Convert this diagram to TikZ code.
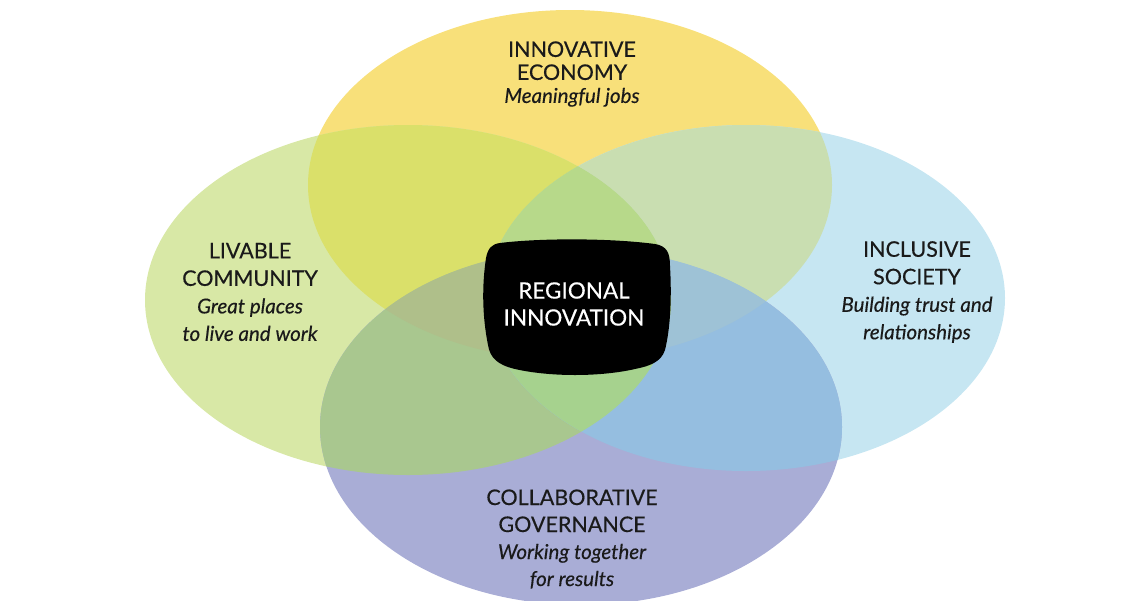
\documentclass[tikz,border=0pt]{standalone}
\usepackage{fontspec}
\setmainfont{Lato}[UprightFeatures={FakeBold=0.35},ItalicFeatures={FakeBold=0.35}]
\definecolor{cY}{HTML}{F8E07A}
\definecolor{cG}{HTML}{D8E8A6}
\definecolor{cB}{HTML}{C6E6F2}
\definecolor{cP}{HTML}{A9ADD6}
\definecolor{cYG}{HTML}{DAE06A}
\definecolor{cYB}{HTML}{C9DEB1}
\definecolor{cGB}{HTML}{B2D98F}
\definecolor{cGP}{HTML}{A9C78F}
\definecolor{cBP}{HTML}{95BEE0}
\definecolor{cYGB}{HTML}{B7D98A}
\definecolor{cYGP}{HTML}{AFBF8A}
\definecolor{cYBP}{HTML}{9EC2D6}
\definecolor{cGBP}{HTML}{A6D28E}
\definecolor{cYGBP}{HTML}{A9CD8A}
\definecolor{txt}{HTML}{1A1A1A}
\newcommand{\capsz}{\fontsize{21.5}{27.5}\selectfont}
\newcommand{\itsz}{\fontsize{20.5}{27.5}\selectfont\itshape}
\tikzset{
  EY/.style={insert path={(570,185) ellipse [x radius=262, y radius=175]}},
  EG/.style={insert path={(408,300) ellipse [x radius=263, y radius=175]}},
  EB/.style={insert path={(746,298) ellipse [x radius=259, y radius=173]}},
  EP/.style={insert path={(581,427) ellipse [x radius=261, y radius=178]}},
  lbl/.style={align=center, text=txt, font=\fontsize{21}{27.5}\selectfont, inner sep=0pt},
}
\begin{document}
\begin{tikzpicture}[x=1pt,y=-1pt]
\useasboundingbox (0,0) rectangle (1143,600);
% single regions
\fill[cY, EY];
\fill[cG, EG];
\fill[cB, EB];
\fill[cP, EP];
% pairs
\begin{scope}\path[clip, EY]; \fill[cYG, EG]; \end{scope}
\begin{scope}\path[clip, EY]; \fill[cYB, EB]; \end{scope}
\begin{scope}\path[clip, EG]; \fill[cGB, EB]; \end{scope}
\begin{scope}\path[clip, EG]; \fill[cGP, EP]; \end{scope}
\begin{scope}\path[clip, EB]; \fill[cBP, EP]; \end{scope}
% triples
\begin{scope}\path[clip, EY]; \path[clip, EG]; \fill[cYGB, EB]; \end{scope}
\begin{scope}\path[clip, EY]; \path[clip, EG]; \fill[cYGP, EP]; \end{scope}
\begin{scope}\path[clip, EY]; \path[clip, EB]; \fill[cYBP, EP]; \end{scope}
\begin{scope}\path[clip, EG]; \path[clip, EB]; \fill[cGBP, EP]; \end{scope}
% quadruple
\begin{scope}\path[clip, EY]; \path[clip, EG]; \path[clip, EB]; \fill[cYGBP, EP]; \end{scope}
% central black shape
\fill[black] (500,243) .. controls (540,238) and (610,238) .. (655,244)
  .. controls (667,246) and (670,253) .. (670,266)
  .. controls (672,300) and (670,330) .. (665,350)
  .. controls (661,362) and (650,366) .. (635,369)
  .. controls (600,377) and (550,377) .. (515,369)
  .. controls (498,365) and (490,358) .. (488,345)
  .. controls (482,315) and (482,285) .. (486,258)
  .. controls (488,248) and (492,244) .. (500,243) -- cycle;
% labels
\node[lbl, font=\fontsize{21}{23}\selectfont] (eco) at (572,74) {{\capsz\baselineskip=23pt INNOVATIVE}\\{\capsz ECONOMY}\\{\itsz Meaningful jobs}};
\node[lbl] (liv) at (250,292) {{\capsz LIVABLE}\\{\capsz COMMUNITY}\\{\itsz Great places}\\{\itsz to live and work}};
\node[lbl] (inc) at (917,292) {{\capsz INCLUSIVE}\\{\capsz SOCIETY}\\{\itsz Building trust and}\\{\itsz relationships}};
\node[lbl, font=\fontsize{21}{27}\selectfont] (gov) at (572,539) {{\capsz COLLABORATIVE}\\{\capsz GOVERNANCE}\\{\itsz Working together}\\{\itsz for results}};
\node[lbl, text=white, font=\fontsize{22.5}{27}\selectfont] (reg) at (574,304) {REGIONAL\\INNOVATION};
\end{tikzpicture}
\end{document}
